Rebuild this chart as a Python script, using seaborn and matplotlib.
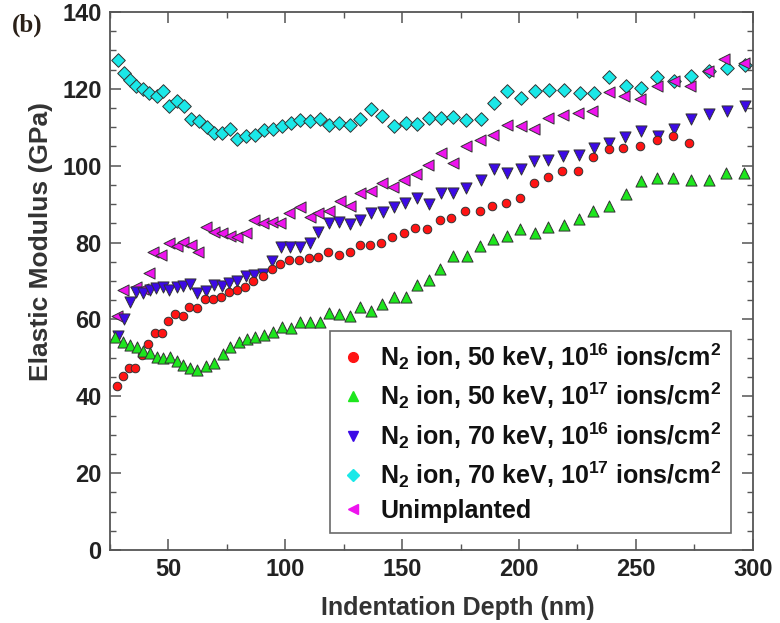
import matplotlib
matplotlib.use('Agg')
import matplotlib.pyplot as plt
from matplotlib.lines import Line2D
from matplotlib.ticker import MultipleLocator
import seaborn as sns

# N2 ion, 50 keV, 1e16 ions/cm2 (circulos vermelhos)
red_x = [28.1, 30.4, 33.3, 35.7, 38.6, 41.4, 44.3, 47.2, 50.0, 52.9, 56.1, 59.0, 62.1, 65.7, 69.0,
         72.4, 76.1, 79.3, 82.8, 86.4, 90.4, 94.3, 97.8, 101.8, 105.7, 110.0, 114.2, 118.1, 122.8, 127.5,
         132.1, 136.4, 141.0, 145.7, 150.7, 155.4, 160.7, 166.4, 171.0, 176.7, 183.3, 188.5, 194.4, 200.4, 206.4,
         212.4, 218.6, 225.2, 231.8, 238.5, 244.7, 251.8, 259.0, 266.1, 272.8]
red_y = [42.7, 45.3, 47.3, 47.3, 50.7, 53.6, 56.5, 56.5, 59.5, 61.4, 60.9, 63.3, 62.9, 65.4, 65.2,
         65.9, 67.2, 67.7, 68.4, 69.9, 71.3, 73.0, 74.4, 75.5, 75.5, 75.9, 76.2, 77.6, 76.8, 77.6,
         79.4, 79.4, 79.8, 81.4, 82.6, 83.7, 83.4, 85.9, 86.3, 88.3, 88.3, 89.5, 90.2, 91.5, 95.4,
         97.1, 98.7, 98.5, 102.3, 104.3, 104.5, 105.0, 106.6, 107.7, 106.0]

# N2 ion, 50 keV, 1e17 ions/cm2
green_x = [27.1, 30.7, 33.6, 36.4, 39.3, 42.1, 45.0, 47.8, 50.7, 53.6, 56.4, 59.3, 62.4, 66.1, 69.6,
           73.3, 76.4, 80.0, 83.6, 87.1, 90.7, 94.7, 98.6, 102.4, 106.4, 110.7, 114.7, 118.5, 123.2, 127.9,
           132.1, 136.7, 141.4, 146.4, 151.8, 156.4, 161.4, 166.4, 171.8, 177.6, 183.3, 188.7, 194.7, 200.4, 206.7,
           212.4, 219.2, 225.7, 231.8, 238.5, 245.7, 252.1, 259.0, 266.1, 273.5, 281.4, 288.5, 296.1]
green_y = [55.5, 54.2, 53.3, 52.7, 51.9, 51.2, 50.3, 49.9, 50.3, 49.3, 48.1, 47.3, 46.8, 47.9, 48.6,
           51.0, 52.7, 54.2, 54.8, 55.4, 56.0, 56.8, 58.1, 57.7, 59.4, 59.4, 59.4, 61.6, 61.4, 60.9,
           63.3, 62.3, 64.0, 65.9, 65.8, 69.0, 70.3, 73.0, 76.5, 76.5, 79.1, 80.9, 81.7, 83.4, 82.6,
           84.0, 84.6, 86.0, 88.3, 89.5, 92.6, 96.1, 96.7, 96.7, 96.3, 96.3, 98.2, 98.2]

# N2 ion, 70 keV, 1e16 ions/cm2
blue_x = [28.6, 31.0, 33.6, 36.1, 39.3, 42.1, 44.7, 47.6, 50.4, 53.6, 56.4, 59.3, 62.4, 66.1, 69.6,
          72.9, 76.1, 79.5, 83.3, 86.7, 90.4, 94.3, 98.1, 102.1, 106.1, 110.4, 114.2, 118.5, 123.2, 127.5,
          132.1, 136.8, 141.8, 146.4, 151.4, 156.4, 161.4, 166.7, 171.8, 177.2, 183.8, 189.2, 195.0, 201.0, 206.4,
          212.4, 219.0, 225.7, 232.1, 238.5, 245.2, 252.4, 259.5, 266.4, 273.8, 281.4, 289.0, 296.7]
blue_y = [55.6, 60.2, 64.5, 67.2, 66.8, 67.7, 68.1, 68.4, 67.7, 68.4, 68.7, 69.2, 66.8, 67.5, 69.0,
          68.7, 69.6, 69.9, 71.3, 71.6, 71.8, 75.3, 78.8, 78.8, 78.8, 79.8, 82.8, 85.2, 85.4, 84.8,
          85.9, 87.6, 88.0, 89.3, 90.4, 91.5, 90.0, 92.8, 92.8, 94.1, 96.3, 99.1, 98.0, 99.1, 101.1,
          101.5, 102.4, 102.8, 104.5, 106.0, 107.4, 109.0, 107.7, 109.5, 112.1, 113.5, 114.1, 115.5]

# N2 ion, 70 keV, 1e17 ions/cm2
cyan_x = [28.6, 31.0, 33.6, 36.1, 39.0, 41.8, 45.0, 47.5, 50.4, 53.6, 56.7, 59.6, 63.0, 66.4, 69.6,
          73.0, 76.4, 79.5, 83.2, 87.1, 90.7, 94.7, 98.6, 102.4, 106.4, 110.4, 114.7, 118.5, 123.2, 127.5,
          132.1, 136.8, 141.4, 146.4, 151.5, 156.4, 161.5, 166.7, 171.8, 177.2, 183.8, 189.2, 195.0, 200.7, 206.7,
          212.7, 219.2, 226.1, 232.1, 238.5, 245.7, 252.1, 259.0, 266.4, 273.8, 281.4, 289.2, 296.6]
cyan_y = [127.5, 124.0, 122.3, 120.7, 119.9, 118.8, 118.1, 119.5, 115.5, 116.8, 115.5, 112.1, 111.5, 110.0, 108.6,
          108.4, 109.5, 106.8, 107.7, 108.0, 109.3, 109.6, 110.3, 111.2, 111.9, 111.7, 112.1, 110.5, 111.2, 110.6,
          112.1, 114.7, 112.8, 110.3, 111.2, 110.9, 112.4, 112.4, 112.7, 111.9, 112.1, 116.4, 119.3, 117.5, 119.3,
          119.8, 119.7, 118.8, 118.8, 123.0, 120.7, 120.3, 123.0, 121.9, 123.3, 124.7, 125.5, 126.1]

# Unimplanted
mag_x = [27.9, 30.7, 36.1, 39.3, 41.8, 43.6, 46.9, 50.4, 53.6, 56.4, 59.6, 62.6, 66.1, 69.3, 72.9,
         76.4, 79.5, 83.0, 86.7, 90.4, 94.3, 97.8, 101.8, 106.1, 110.4, 114.2, 118.5, 123.6, 127.5, 131.8,
         136.7, 141.4, 146.1, 151.0, 156.1, 161.0, 166.7, 171.8, 177.2, 183.3, 188.7, 195.0, 200.7, 206.4, 212.6,
         219.0, 225.3, 231.4, 238.5, 245.0, 251.8, 259.2, 266.4, 273.2, 280.7, 287.8, 296.4]
mag_y = [61.0, 67.7, 68.4, 67.8, 72.2, 77.6, 76.8, 79.8, 79.1, 80.2, 79.4, 77.6, 84.1, 82.8, 82.4,
         81.7, 81.5, 82.6, 85.9, 85.2, 85.4, 85.0, 87.8, 89.2, 86.7, 87.8, 88.3, 90.9, 89.5, 92.8,
         93.3, 95.4, 94.4, 96.3, 97.8, 100.2, 103.4, 100.6, 105.0, 106.6, 108.0, 110.6, 110.3, 109.5, 112.5,
         113.2, 113.6, 114.1, 119.1, 118.1, 117.3, 120.7, 121.9, 120.6, 124.7, 127.7, 126.7]

labels = ['N$_2$ ion, 50 keV, 10$^{16}$ ions/cm$^2$',
          'N$_2$ ion, 50 keV, 10$^{17}$ ions/cm$^2$',
          'N$_2$ ion, 70 keV, 10$^{16}$ ions/cm$^2$',
          'N$_2$ ion, 70 keV, 10$^{17}$ ions/cm$^2$',
          'Unimplanted']

sns.set_style('ticks')
plt.rcParams['font.family'] = ['Liberation Sans', 'DejaVu Sans']
plt.rcParams['font.weight'] = 'bold'
plt.rcParams['mathtext.fontset'] = 'custom'
plt.rcParams['mathtext.rm'] = 'Liberation Sans:bold'
plt.rcParams['mathtext.it'] = 'Liberation Sans:bold'
plt.rcParams['mathtext.bf'] = 'Liberation Sans:bold'

fig = plt.figure(figsize=(7.8, 6.23), dpi=100)
ax = fig.add_axes([0.141, 0.117, 0.824, 0.864])

# (x, y, marcador, cor, tamanho)
series = [
    (cyan_x, cyan_y, 'D', '#1ae8e8', 48),
    (mag_x, mag_y, '<', '#ee14ee', 64),
    (blue_x, blue_y, 'v', '#3c0ae6', 64),
    (red_x, red_y, 'o', '#ff1414', 38),
    (green_x, green_y, '^', '#1ee61e', 64),
]
for xs, ys, mk, cor, tam in series:
    sns.scatterplot(x=xs, y=ys, marker=mk, color=cor, s=tam, edgecolor='#333333',
                    linewidth=0.7, ax=ax, legend=False, zorder=3)

ax.set_xlim(25, 300)
ax.set_ylim(0, 140)
ax.xaxis.set_major_locator(MultipleLocator(50))
ax.xaxis.set_minor_locator(MultipleLocator(25))
ax.yaxis.set_major_locator(MultipleLocator(20))
ax.yaxis.set_minor_locator(MultipleLocator(5))
ax.tick_params(which='both', direction='in', top=True, right=True, color='#555555',
               labelsize=17, labelcolor='#222222')
ax.tick_params(which='major', length=8, width=1.1, pad=6)
ax.tick_params(which='minor', length=4, width=1.0)
for sp in ax.spines.values():
    sp.set_color('#555555')
    sp.set_linewidth(1.3)

ax.set_xlabel('Indentation Depth (nm)', fontsize=18, fontweight='bold', color='#333333')
ax.set_ylabel('Elastic Modulus (GPa)', fontsize=19, fontweight='bold', color='#333333')
ax.xaxis.set_label_coords(0.541, -0.085)
ax.yaxis.set_label_coords(-0.088, 0.574)

handles = [Line2D([], [], linestyle='none', marker='o', color='#ff1414', markersize=7),
           Line2D([], [], linestyle='none', marker='^', color='#1ee61e', markersize=7),
           Line2D([], [], linestyle='none', marker='v', color='#3c0ae6', markersize=7),
           Line2D([], [], linestyle='none', marker='D', color='#1ae8e8', markersize=6),
           Line2D([], [], linestyle='none', marker='<', color='#ee14ee', markersize=7)]
leg = ax.legend(handles, labels, loc='lower right', bbox_to_anchor=(0.967, 0.032),
                fontsize=18, frameon=True, fancybox=False, handlelength=1.0,
                handletextpad=0.6, labelspacing=0.35, borderpad=0.4, borderaxespad=0)
leg.get_frame().set_edgecolor('#444444')
leg.get_frame().set_linewidth(1.2)
for t in leg.get_texts():
    t.set_color('#111111')

fig.text(0.015, 0.978, '(b)', family='Liberation Serif', fontweight='bold', fontsize=18,
         color='#2a2018', va='top', ha='left')

plt.savefig('out.png', dpi=100)
